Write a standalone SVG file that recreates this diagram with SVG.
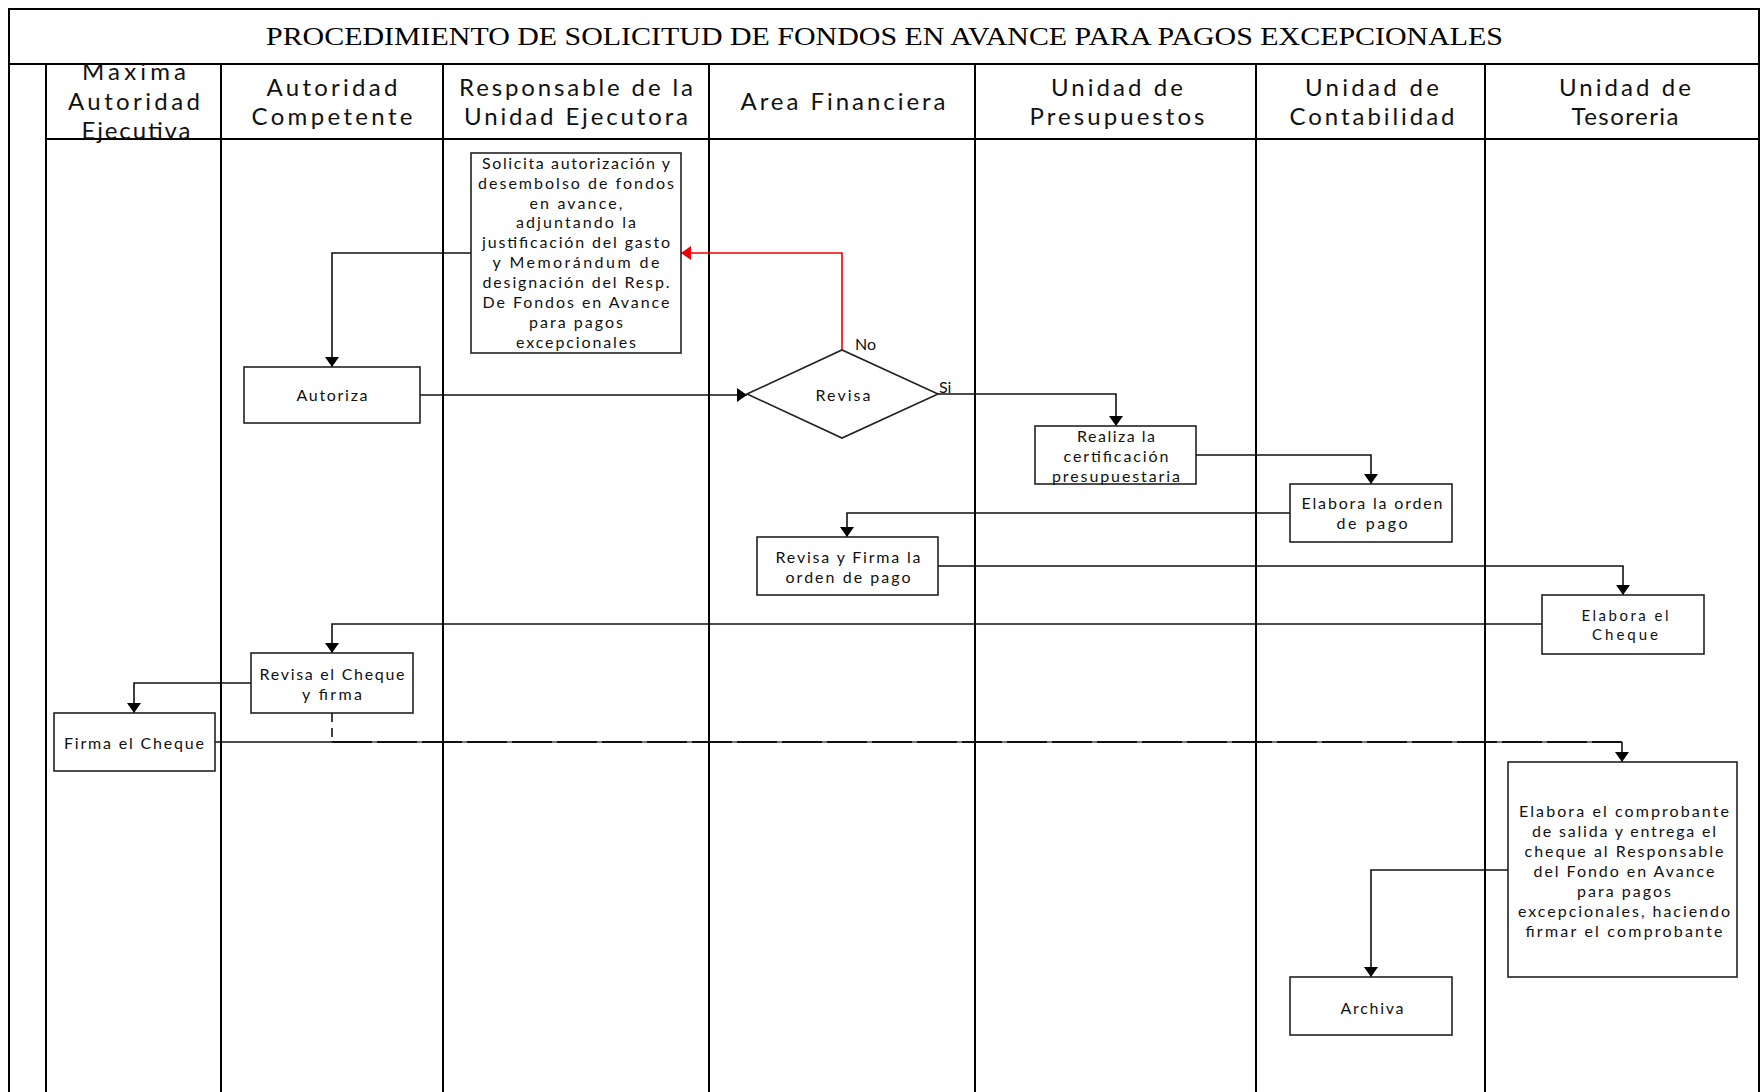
<svg xmlns="http://www.w3.org/2000/svg" width="1761" height="1092" viewBox="0 0 1761 1092">
<style>
.frame{fill:none;stroke:#000;stroke-width:2}
.lane{stroke:#000;stroke-width:2}
.box{fill:#fff;stroke:#222;stroke-width:1.6}
.con{fill:none;stroke:#111;stroke-width:1.6}
.red{fill:none;stroke:#e00;stroke-width:1.6}
.title{font-family:"Liberation Serif","Times New Roman",serif;font-size:25px;fill:#000}
.hdr{font-family:Lato,"Open Sans",sans-serif;font-size:24px;fill:#111;text-anchor:middle}
.t{font-family:Lato,"Open Sans",sans-serif;font-size:16px;fill:#111;text-anchor:middle}
.s{font-size:15px}
.lbl{font-family:Lato,"Open Sans",sans-serif;font-size:16px;fill:#111}
</style>
<defs>
<marker id="ah" viewBox="0 0 10 14" refX="10" refY="7" markerWidth="10" markerHeight="14" orient="auto" markerUnits="userSpaceOnUse"><path d="M0,0 L10,7 L0,14 z" fill="#000"/></marker>
<marker id="ahr" viewBox="0 0 10 14" refX="10" refY="7" markerWidth="10" markerHeight="14" orient="auto" markerUnits="userSpaceOnUse"><path d="M0,0 L10,7 L0,14 z" fill="#e00"/></marker>
</defs>
<rect width="1761" height="1092" fill="#fff"/>
<g id="frame">
<path class="frame" d="M9,1092 V9 H1759 V1092"/>
<line class="lane" x1="9" y1="64" x2="1759" y2="64"/>
<line class="lane" x1="46" y1="139" x2="1759" y2="139"/>
<line class="lane" x1="46" y1="64" x2="46" y2="1092"/>
<line class="lane" x1="221" y1="64" x2="221" y2="1092"/>
<line class="lane" x1="443" y1="64" x2="443" y2="1092"/>
<line class="lane" x1="709" y1="64" x2="709" y2="1092"/>
<line class="lane" x1="975" y1="64" x2="975" y2="1092"/>
<line class="lane" x1="1256" y1="64" x2="1256" y2="1092"/>
<line class="lane" x1="1485" y1="64" x2="1485" y2="1092"/>
<text class="title" x="266" y="45" textLength="1237" lengthAdjust="spacingAndGlyphs">PROCEDIMIENTO DE SOLICITUD DE FONDOS EN AVANCE PARA PAGOS EXCEPCIONALES</text>
</g>
<g id="headers">
<text class="hdr" x="134" y="80" textLength="104">Maxima</text>
<text class="hdr" x="134" y="110" textLength="132">Autoridad</text>
<text class="hdr" x="136" y="139" textLength="109">Ejecutiva</text>
<text class="hdr" x="332" y="96" textLength="131">Autoridad</text>
<text class="hdr" x="332" y="125" textLength="161">Competente</text>
<text class="hdr" x="576" y="96" textLength="234">Responsable de la</text>
<text class="hdr" x="576" y="125" textLength="224">Unidad Ejecutora</text>
<text class="hdr" x="843" y="110" textLength="205">Area Financiera</text>
<text class="hdr" x="1117" y="96" textLength="132">Unidad de</text>
<text class="hdr" x="1117" y="125" textLength="175">Presupuestos</text>
<text class="hdr" x="1372" y="96" textLength="134">Unidad de</text>
<text class="hdr" x="1372" y="125" textLength="165">Contabilidad</text>
<text class="hdr" x="1625" y="96" textLength="132">Unidad de</text>
<text class="hdr" x="1625" y="125" textLength="107">Tesoreria</text>
</g>
<g id="connectors">
<path class="con" d="M471,253 H332 V367" marker-end="url(#ah)"/>
<path class="con" d="M420,395 H747" marker-end="url(#ah)"/>
<path class="red" d="M842,350 V253 H681" marker-end="url(#ahr)"/>
<path class="con" d="M938,394 H1116 V426" marker-end="url(#ah)"/>
<path class="con" d="M1196,455 H1371 V484" marker-end="url(#ah)"/>
<path class="con" d="M1290,513 H847 V537" marker-end="url(#ah)"/>
<path class="con" d="M938,566 H1623 V595" marker-end="url(#ah)"/>
<path class="con" d="M1542,624 H332 V653" marker-end="url(#ah)"/>
<path class="con" d="M251,683 H134 V713" marker-end="url(#ah)"/>
<path class="con" d="M215,742 H332"/>
<path d="M332,742 H1622" fill="none" stroke="#777" stroke-width="1.8"/>
<path d="M332,742 H1622" fill="none" stroke="#111" stroke-width="1.8" stroke-dasharray="40 5"/>
<path class="con" d="M1622,742 V762" marker-end="url(#ah)"/>
<path class="con" d="M332,713 V742" stroke-dasharray="9 6"/>
<path class="con" d="M1508,870 H1371 V977" marker-end="url(#ah)"/>
<text class="lbl" x="855" y="350">No</text>
<text class="lbl" x="939" y="393">Si</text>
</g>
<g id="n-solicita">
<rect class="box" x="471" y="153" width="210" height="200"/>
<text class="t" x="576" y="169" textLength="188">Solicita autorización y</text>
<text class="t" x="576" y="189" textLength="196">desembolso de fondos</text>
<text class="t" x="576" y="209" textLength="93">en avance,</text>
<text class="t" x="576" y="228" textLength="120">adjuntando la</text>
<text class="t" x="576" y="248" textLength="188">justificación del gasto</text>
<text class="t" x="576" y="268" textLength="167">y Memorándum de</text>
<text class="t" x="576" y="288" textLength="187">designación del Resp.</text>
<text class="t" x="576" y="308" textLength="187">De Fondos en Avance</text>
<text class="t" x="576" y="328" textLength="94">para pagos</text>
<text class="t" x="576" y="348" textLength="120">excepcionales</text>
</g>
<g id="n-autoriza">
<rect class="box" x="244" y="367" width="176" height="56"/>
<text class="t" x="332" y="401" textLength="71">Autoriza</text>
</g>
<g id="n-revisa">
<polygon class="box" points="747,394 842,350 938,394 842,438"/>
<text class="t" x="843" y="401" textLength="55">Revisa</text>
</g>
<g id="n-realiza">
<rect class="box" x="1035" y="426" width="161" height="58"/>
<text class="t" x="1116" y="442" textLength="78">Realiza la</text>
<text class="t" x="1116" y="462" textLength="105">certificación</text>
<text class="t" x="1116" y="482" textLength="128">presupuestaria</text>
</g>
<g id="n-orden">
<rect class="box" x="1290" y="484" width="162" height="58"/>
<text class="t" x="1372" y="509" textLength="141">Elabora la orden</text>
<text class="t" x="1372" y="529" textLength="71">de pago</text>
</g>
<g id="n-firmaorden">
<rect class="box" x="757" y="537" width="181" height="58"/>
<text class="t" x="848" y="563" textLength="145">Revisa y Firma la</text>
<text class="t" x="848" y="583" textLength="125">orden de pago</text>
</g>
<g id="n-cheque">
<rect class="box" x="1542" y="595" width="162" height="59"/>
<text class="t s" x="1625" y="621" textLength="87">Elabora el</text>
<text class="t s" x="1625" y="640" textLength="66">Cheque</text>
</g>
<g id="n-revisacheque">
<rect class="box" x="251" y="653" width="162" height="60"/>
<text class="t" x="332" y="680" textLength="145">Revisa el Cheque</text>
<text class="t" x="332" y="700" textLength="60">y firma</text>
</g>
<g id="n-firmacheque">
<rect class="box" x="54" y="713" width="161" height="58"/>
<text class="t" x="134" y="749" textLength="140">Firma el Cheque</text>
</g>
<g id="n-comprobante">
<rect class="box" x="1508" y="762" width="229" height="215"/>
<text class="t" x="1624" y="817" textLength="210">Elabora el comprobante</text>
<text class="t" x="1624" y="837" textLength="184">de salida y entrega el</text>
<text class="t" x="1624" y="857" textLength="199">cheque al Responsable</text>
<text class="t" x="1624" y="877" textLength="181">del Fondo en Avance</text>
<text class="t" x="1624" y="897" textLength="94">para pagos</text>
<text class="t" x="1624" y="917" textLength="212">excepcionales, haciendo</text>
<text class="t" x="1624" y="937" textLength="197">firmar el comprobante</text>
</g>
<g id="n-archiva">
<rect class="box" x="1290" y="977" width="162" height="58"/>
<text class="t" x="1372" y="1014" textLength="63">Archiva</text>
</g>
</svg>
